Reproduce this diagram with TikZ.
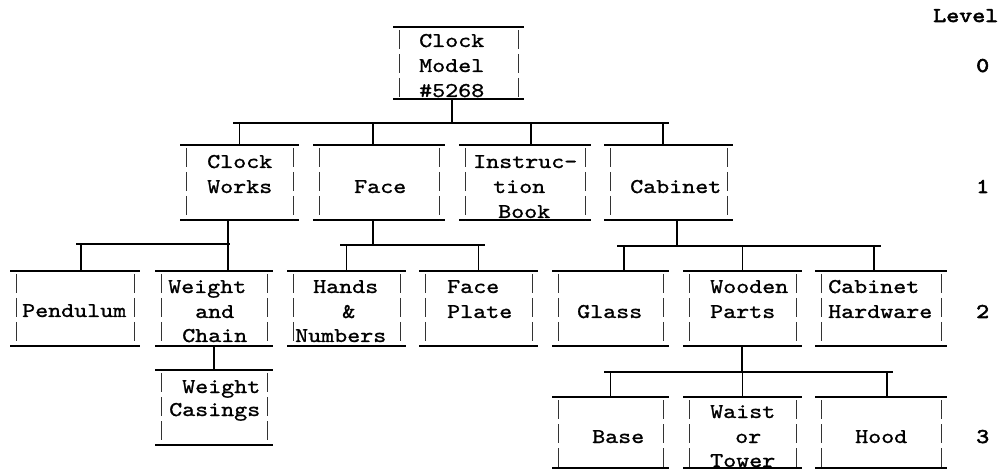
\documentclass[tikz,border=0pt]{standalone}
\usepackage{fontspec}
\newfontfamily\tw{lmmono10-regular.otf}[FakeStretch=1.18,FakeBold=1.1]
\newfontfamily\twb{lmmono10-regular.otf}[FakeStretch=1.18,FakeBold=2.6]
\newcommand\bombox[5]{% name, left, right, top, bottom
  \node[boxarea, minimum width={(#3)-(#2)}, minimum height={(#5)-(#4)}] (#1) at ({((#2)+(#3))/2},{((#4)+(#5))/2}) {};
  \draw[hline] (#1.north west) -- (#1.north east);
  \draw[hline] (#1.south west) -- (#1.south east);
  \draw[vside] ([xshift=6pt,yshift=-3pt]#1.north west) -- ([xshift=6pt]#1.south west);
  \draw[vside] ([xshift=-6pt,yshift=-3pt]#1.north east) -- ([xshift=-6pt]#1.south east);}
\begin{document}
\begin{tikzpicture}[x=1pt,y=-1pt,
  hline/.style={line width=1.5pt, black},
  vside/.style={line width=0.9pt, black!80, dash pattern=on 19pt off 5pt},
  conn/.style={line width=1.1pt, black},
  bus/.style={line width=1.5pt, black},
  boxarea/.style={inner sep=0pt, outer sep=0pt, draw=none},
  txt/.style={anchor=base west, inner sep=0pt, font=\tw\fontsize{21}{24}\selectfont},
  lvl/.style={anchor=base west, inner sep=0pt, font=\twb\fontsize{21}{24}\selectfont}]
\useasboundingbox (0,0) rectangle (999,470);

% ---- boxes ----
\bombox{root}{393}{524}{27}{99}
\bombox{cw}{180}{299}{145}{220}
\bombox{face}{313}{445}{145}{220}
\bombox{ib}{459}{591}{145}{220}
\bombox{cab}{604}{733}{145}{220}
\bombox{pend}{10}{140}{271}{346}
\bombox{wc}{155}{273}{271}{346}
\bombox{hn}{287}{406}{271}{346}
\bombox{fp}{419}{538}{271}{346}
\bombox{glass}{552}{669}{271}{346}
\bombox{wood}{683}{802}{271}{346}
\bombox{hw}{815}{947}{271}{346}
\bombox{wcs}{155}{273}{370}{445}
\bombox{base}{552}{669}{397}{468}
\bombox{waist}{683}{802}{397}{468}
\bombox{hood}{815}{947}{397}{468}

% ---- texts ----
\node[txt] (t-root1) at (419,47) {Clock};
\node[txt] (t-root2) at (419,72) {Model};
\node[txt] (t-root3) at (419,97) {\#5268};
\node[txt] (t-cw1) at (207,168) {Clock};
\node[txt] (t-cw2) at (207,193) {Works};
\node[txt] (t-face) at (354,193) {Face};
\node[txt] (t-ib1) at (473,168) {Instruc-};
\node[txt] (t-ib2) at (493,193) {tion};
\node[txt] (t-ib3) at (498,218) {Book};
\node[txt] (t-cab) at (630,193) {Cabinet};
\node[txt] (t-pend) at (22,317) {Pendulum};
\node[txt] (t-wc1) at (168,293) {Weight};
\node[txt] (t-wc2) at (195,318) {and};
\node[txt] (t-wc3) at (182,342) {Chain};
\node[txt] (t-hn1) at (313,293) {Hands};
\node[txt] (t-hn2) at (342,318) {\&};
\node[txt] (t-hn3) at (295,342) {Numbers};
\node[txt] (t-fp1) at (447,293) {Face};
\node[txt] (t-fp2) at (447,318) {Plate};
\node[txt] (t-glass) at (577,318) {Glass};
\node[txt] (t-wood1) at (710,293) {Wooden};
\node[txt] (t-wood2) at (710,318) {Parts};
\node[txt] (t-hw1) at (828,293) {Cabinet};
\node[txt] (t-hw2) at (828,318) {Hardware};
\node[txt] (t-wcs1) at (182,393) {Weight};
\node[txt] (t-wcs2) at (169,416) {Casings};
\node[txt] (t-base) at (592,443) {Base};
\node[txt] (t-waist1) at (710,418) {Waist};
\node[txt] (t-waist2) at (735,443) {or};
\node[txt] (t-waist3) at (710,467) {Tower};
\node[txt] (t-hood) at (855,443) {Hood};

% ---- level labels ----
\node[lvl] (lv) at (933,22) {Level};
\node[lvl] (lv0) at (976,72) {0};
\node[lvl] (lv1) at (976,193) {1};
\node[lvl] (lv2) at (976,318) {2};
\node[lvl] (lv3) at (976,443) {3};

% ---- connectors: level 0 -> 1 ----
\coordinate (j0) at (452,123);
\coordinate (b0l) at (233,123);
\coordinate (b0r) at (669,123);
\draw[conn] (j0 |- root.south) -- (j0);
\draw[bus] (b0l) -- (b0r);
\draw[conn] (cw.north |- b0l) -- (cw.north);
\draw[conn] ([xshift=-6pt]face.north |- b0l) -- ([xshift=-6pt]face.north);
\draw[conn] ([xshift=6pt]ib.north |- b0l) -- ([xshift=6pt]ib.north);
\draw[conn] ([xshift=-5.5pt]cab.north |- b0l) -- ([xshift=-5.5pt]cab.north);

% ---- clock works -> children ----
\coordinate (j1) at (228,244);
\coordinate (b1l) at (76,244);
\coordinate (b1r) at (230,244);
\draw[conn] (j1 |- cw.south) -- (j1);
\draw[bus] (b1l) -- (b1r);
\draw[conn] ([xshift=6pt]pend.north |- b1l) -- ([xshift=6pt]pend.north);
\draw[conn] ([xshift=14pt]wc.north |- b1l) -- ([xshift=14pt]wc.north);

% ---- face -> children ----
\coordinate (j2) at (373,245);
\coordinate (b2l) at (340,245);
\coordinate (b2r) at (485,245);
\draw[conn] (j2 |- face.south) -- (j2);
\draw[bus] (b2l) -- (b2r);
\draw[conn] (hn.north |- b2l) -- (hn.north);
\draw[conn] (fp.north |- b2l) -- (fp.north);

% ---- cabinet -> children ----
\coordinate (j3) at (677,246);
\coordinate (b3l) at (617,246);
\coordinate (b3r) at (881,246);
\draw[conn] (j3 |- cab.south) -- (j3);
\draw[bus] (b3l) -- (b3r);
\draw[conn] ([xshift=13.5pt]glass.north |- b3l) -- ([xshift=13.5pt]glass.north);
\draw[conn] (wood.north |- b3l) -- (wood.north);
\draw[conn] ([xshift=-7pt]hw.north |- b3l) -- ([xshift=-7pt]hw.north);

% ---- weight and chain -> weight casings ----
\draw[conn] (wc.south) -- (wcs.north);

% ---- wooden parts -> children ----
\coordinate (j4) at (742,372);
\coordinate (b4l) at (604,372);
\coordinate (b4r) at (893,372);
\draw[conn] (j4 |- wood.south) -- (j4);
\draw[bus] (b4l) -- (b4r);
\draw[conn] (base.north |- b4l) -- (base.north);
\draw[conn] (waist.north |- b4l) -- (waist.north);
\draw[conn] ([xshift=6pt]hood.north |- b4l) -- ([xshift=6pt]hood.north);
\end{tikzpicture}
\end{document}
